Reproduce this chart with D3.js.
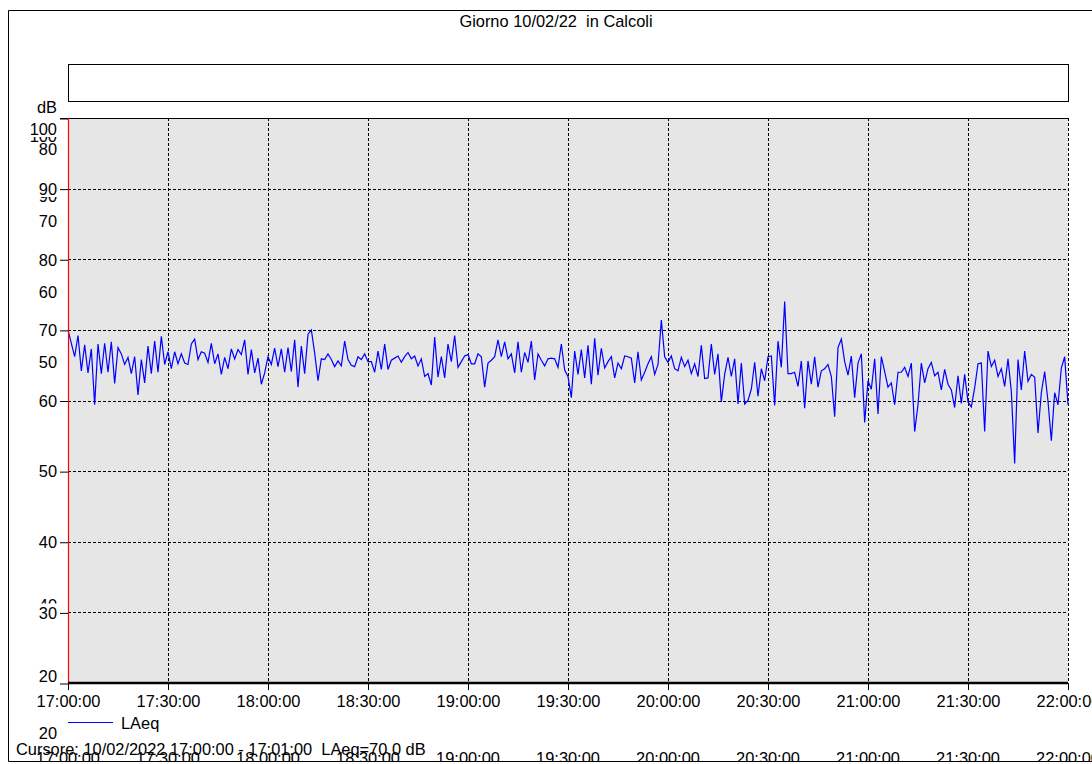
<!DOCTYPE html>
<html>
<head>
<meta charset="utf-8">
<script src="https://cdn.jsdelivr.net/npm/d3@7"></script>
<style>
  body { margin: 0; background: #fff; }
  text { font-family: "Liberation Sans", Arial, sans-serif; }
</style>
</head>
<body>
<svg id="chart"></svg>
<script>
// data: one LAeq value per minute, 17:00 -> 22:00
let title = "Giorno 10/02/22  in Calcoli";
let seriesName = "LAeq";
let cursorText = "Cursore: 10/02/2022 17:00:00 - 17:01:00  LAeq=70,0 dB";
let startTime = new Date(2022, 1, 10, 17, 0, 0);
let endTime = new Date(2022, 1, 10, 22, 0, 0);
let yTicks = [20, 30, 40, 50, 60, 70, 80, 90, 100];
let xTickLabels = ["17:00:00", "17:30:00", "18:00:00", "18:30:00", "19:00:00", "19:30:00",
  "20:00:00", "20:30:00", "21:00:00", "21:30:00", "22:00:00"];
let laeq = [
  70.0, 68.1, 66.2, 69.2, 64.2, 67.9, 63.9, 67.3, 59.4, 68.0,
  63.8, 68.1, 64.0, 68.3, 62.4, 67.5, 66.6, 65.1, 66.1, 63.8,
  66.2, 60.8, 65.8, 62.5, 67.7, 63.8, 68.4, 64.0, 69.1, 65.1,
  66.9, 64.5, 66.9, 65.2, 66.6, 65.3, 65.1, 68.0, 68.7, 65.8,
  66.9, 66.7, 65.4, 68.1, 65.2, 66.6, 63.7, 66.1, 64.5, 67.3,
  65.9, 67.2, 66.5, 68.6, 63.7, 67.2, 63.9, 66.0, 62.3, 63.9,
  66.2, 65.1, 67.4, 64.8, 67.3, 64.0, 67.5, 64.1, 68.6, 61.9,
  67.7, 63.8, 69.4, 70.0, 66.7, 62.8, 65.9, 65.8, 66.6, 65.8,
  64.8, 65.6, 64.9, 68.4, 65.8, 65.0, 64.8, 66.2, 65.8, 66.6,
  65.5, 65.5, 64.0, 67.0, 64.4, 68.0, 64.4, 65.7, 66.0, 66.3,
  65.4, 66.2, 66.8, 65.9, 66.3, 64.9, 65.9, 63.4, 63.8, 62.2,
  69.0, 63.3, 66.2, 63.2, 68.0, 65.5, 69.2, 64.7, 65.5, 66.3,
  66.5, 65.2, 65.2, 66.6, 66.2, 61.9, 65.3, 65.7, 66.2, 68.6,
  66.2, 68.3, 65.9, 66.6, 63.9, 68.3, 64.0, 66.8, 65.4, 68.4,
  62.9, 66.6, 65.7, 64.9, 65.9, 66.0, 65.9, 64.7, 68.0, 64.3,
  63.4, 60.4, 67.0, 63.7, 67.2, 63.2, 67.8, 62.3, 68.8, 63.6,
  67.4, 64.6, 65.5, 66.2, 63.2, 65.3, 64.5, 66.3, 66.2, 66.0,
  62.5, 66.9, 62.9, 64.0, 65.2, 66.2, 63.7, 65.1, 71.4, 66.2,
  65.4, 66.3, 64.5, 64.2, 66.1, 64.8, 65.7, 63.8, 65.2, 63.4,
  67.8, 63.1, 63.2, 68.0, 63.7, 66.6, 59.8, 63.7, 66.1, 63.4,
  65.9, 59.5, 65.3, 59.5, 60.0, 61.6, 65.4, 60.6, 64.5, 62.8,
  66.2, 66.3, 59.3, 68.4, 64.7, 74.0, 63.8, 63.8, 64.0, 62.0,
  65.6, 58.9, 65.6, 62.3, 66.2, 61.9, 64.2, 64.5, 65.1, 63.4,
  57.7, 67.5, 68.7, 65.5, 63.6, 66.3, 60.4, 65.3, 66.6, 56.9,
  62.8, 61.6, 65.9, 58.1, 66.2, 64.1, 61.9, 62.5, 59.4, 64.0,
  64.0, 64.7, 63.4, 65.3, 55.6, 59.4, 65.3, 62.5, 64.5, 65.4,
  63.5, 64.0, 61.5, 64.4, 62.3, 61.5, 59.0, 63.5, 59.6, 63.7,
  59.8, 59.1, 61.8, 65.2, 65.3, 55.6, 67.0, 64.8, 65.7, 63.4,
  64.5, 62.0, 65.9, 61.3, 51.1, 65.8, 61.5, 67.0, 62.7, 63.7,
  63.3, 55.4, 61.1, 64.1, 59.9, 54.3, 61.1, 59.4, 64.6, 66.2,
  59.4
];

let width = 1092,
  height = 764;
let plot = { left: 68, right: 1068, top: 118, bottom: 683 };
let fontSize = 16.4;

let svg = d3.select("#chart").attr("width", width).attr("height", height);

let x = d3.scaleTime().domain([startTime, endTime]).range([plot.left, plot.right]);
let y = d3.scaleLinear().domain([20, 100]).range([plot.bottom, plot.top]);

let points = laeq.map((v, i) => ({ t: d3.timeMinute.offset(startTime, i), v: v }));
let xTickTimes = xTickLabels.map((d, i) => d3.timeMinute.offset(startTime, i * 30));

// outer frame (left, top, bottom)
svg.append("path")
  .attr("d", "M1092,10.5 H8.5 V761.5 H1092")
  .attr("fill", "none")
  .attr("stroke", "#000")
  .attr("stroke-width", 1);

svg.append("text")
  .attr("x", 556)
  .attr("y", 27)
  .attr("text-anchor", "middle")
  .attr("font-size", fontSize)
  .style("white-space", "pre")
  .text(title);

// empty legend box under the title
svg.append("rect")
  .attr("x", plot.left + 0.5)
  .attr("y", 64.5)
  .attr("width", plot.right - plot.left)
  .attr("height", 37)
  .attr("fill", "#fff")
  .attr("stroke", "#000");

// plot background
svg.append("rect")
  .attr("x", plot.left)
  .attr("y", plot.top)
  .attr("width", plot.right - plot.left)
  .attr("height", plot.bottom - plot.top)
  .attr("fill", "#e6e6e6");

// grid
svg.append("g")
  .selectAll("line")
  .data(yTicks.filter((d) => d > 20 && d < 100))
  .join("line")
  .attr("x1", plot.left)
  .attr("x2", plot.right)
  .attr("y1", (d) => Math.round(y(d)) + 0.5)
  .attr("y2", (d) => Math.round(y(d)) + 0.5)
  .attr("stroke", "#000")
  .attr("stroke-dasharray", "3,2");
svg.append("g")
  .selectAll("line")
  .data(xTickTimes.slice(1))
  .join("line")
  .attr("x1", (d) => Math.round(x(d)) + 0.5)
  .attr("x2", (d) => Math.round(x(d)) + 0.5)
  .attr("y1", plot.top)
  .attr("y2", plot.bottom)
  .attr("stroke", "#000")
  .attr("stroke-dasharray", "3,2");

svg.append("line")
  .attr("x1", 60)
  .attr("x2", plot.right)
  .attr("y1", plot.top + 0.5)
  .attr("y2", plot.top + 0.5)
  .attr("stroke", "#000");

// ghost labels left over from the exported picture
let ghostY = [
  ["100", 142, [137, 143]],
  ["80", 155, null],
  ["90", 202, [197, 203]],
  ["70", 227, null],
  ["60", 298, null],
  ["50", 368, null],
  ["40", 610.5, [598, 603.5]],
  ["20", 739, null],
];
let defs = svg.append("defs");
ghostY.forEach((g, i) => {
  let t = svg.append("text")
    .attr("x", 57)
    .attr("y", g[1])
    .attr("text-anchor", "end")
    .attr("font-size", fontSize)
    .text(g[0]);
  if (g[2]) {
    defs.append("clipPath").attr("id", "gy" + i)
      .append("rect").attr("x", 0).attr("width", 60)
      .attr("y", g[2][0]).attr("height", g[2][1] - g[2][0]);
    t.attr("clip-path", "url(#gy" + i + ")");
  }
});

// y axis
let yAxis = svg.append("g")
  .attr("transform", "translate(" + plot.left + ",0.5)")
  .call(d3.axisLeft(y).tickValues(yTicks).tickSize(8).tickPadding(3))
  .attr("font-size", fontSize)
  .attr("font-family", null);
yAxis.select(".domain").remove();
yAxis.selectAll("text").attr("fill", "#000");
yAxis.selectAll(".tick")
  .filter((d) => d === 100)
  .select("text").attr("dy", "1.0em");
yAxis.selectAll(".tick")
  .filter((d) => d === 20)
  .select("text").attr("dy", "-0.1em");

svg.append("text")
  .attr("x", 57)
  .attr("y", 113)
  .attr("text-anchor", "end")
  .attr("font-size", fontSize)
  .text("dB");

// data line
let valueline = d3.line()
  .x((d) => x(d.t))
  .y((d) => y(d.v));
svg.append("path")
  .datum(points)
  .attr("fill", "none")
  .attr("stroke", "#0000ff")
  .attr("stroke-width", 1.2)
  .attr("d", valueline);

// cursor
svg.append("line")
  .attr("x1", plot.left + 0.5)
  .attr("x2", plot.left + 0.5)
  .attr("y1", plot.top)
  .attr("y2", plot.bottom)
  .attr("stroke", "#ff0000")
  .attr("stroke-width", 1.2);

// x axis
let xAxis = svg.append("g")
  .attr("transform", "translate(0," + (plot.bottom) + ")")
  .call(d3.axisBottom(x).tickValues(xTickTimes)
    .tickFormat((d, i) => xTickLabels[i]).tickSize(7).tickPadding(5))
  .attr("font-size", fontSize)
  .attr("font-family", null);
xAxis.select(".domain").attr("stroke-width", 2.5).attr("d", "M" + plot.left + ",0H" + plot.right);
xAxis.selectAll("text").attr("fill", "#000");

// legend
svg.append("line")
  .attr("x1", 68)
  .attr("x2", 113)
  .attr("y1", 722.5)
  .attr("y2", 722.5)
  .attr("stroke", "#0000ff");
svg.append("text")
  .attr("x", 121)
  .attr("y", 729)
  .attr("font-size", fontSize)
  .text(seriesName);

// ghost time labels, cut by the frame
defs.append("clipPath").attr("id", "gx")
  .append("rect").attr("x", 0).attr("y", 740).attr("width", width).attr("height", 21);
svg.append("g")
  .attr("clip-path", "url(#gx)")
  .selectAll("text")
  .data(xTickTimes)
  .join("text")
  .attr("x", (d) => x(d))
  .attr("y", 764)
  .attr("text-anchor", "middle")
  .attr("font-size", fontSize)
  .text((d, i) => xTickLabels[i]);

svg.append("text")
  .attr("x", 16)
  .attr("y", 755)
  .attr("font-size", fontSize)
  .style("white-space", "pre")
  .text(cursorText);
</script>
</body>
</html>
